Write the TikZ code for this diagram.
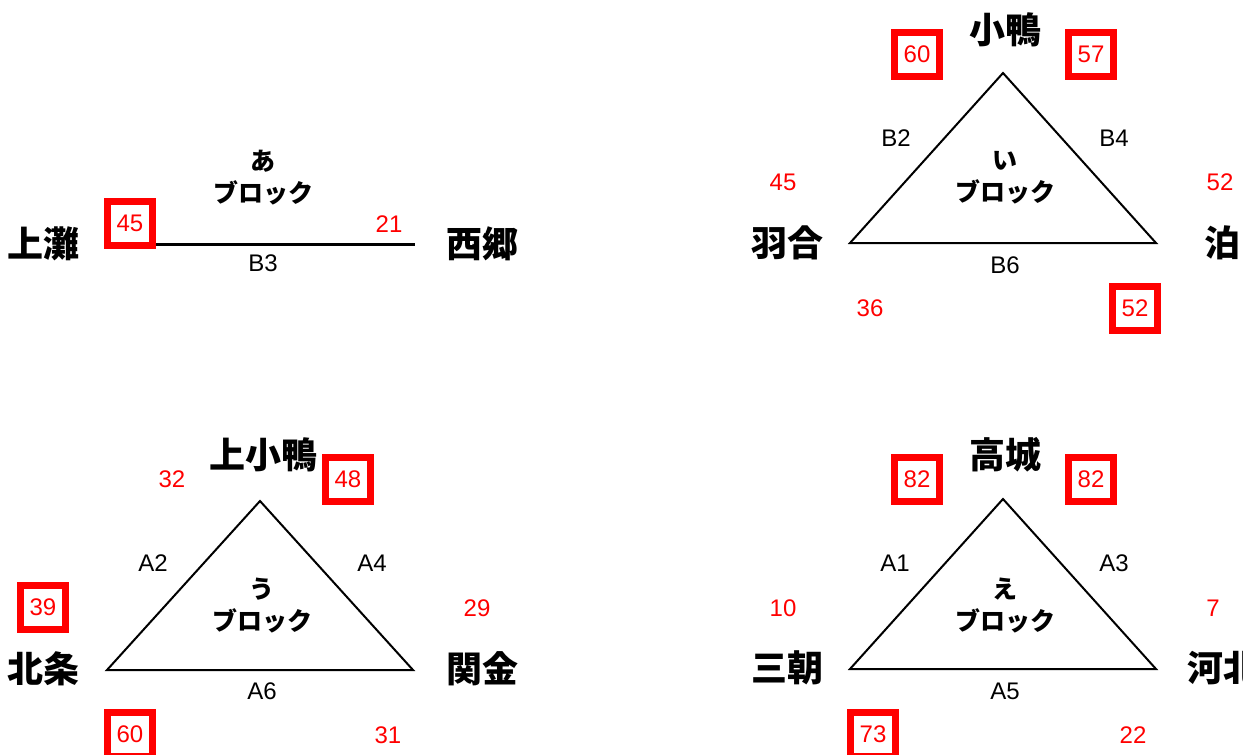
\documentclass[tikz,border=0pt]{standalone}
\usepackage{fontspec}
\setmainfont{Liberation Sans}
\newfontfamily\jp{Noto Sans CJK JP}
\begin{document}
\begin{tikzpicture}[x=1pt,y=-1pt,
  place/.style={font=\jp\bfseries\fontsize{36}{42}\selectfont, inner sep=0pt},
  num/.style={text=red, font=\fontsize{24}{28}\selectfont, inner sep=0pt},
  boxnum/.style={num, draw=red, line width=7pt, minimum width=45pt, minimum height=44pt},
  edgelab/.style={font=\fontsize{24}{28}\selectfont, inner sep=0pt},
  blk/.style={font=\jp\bfseries\fontsize{25}{32}\selectfont, align=center, inner sep=0pt},
  tri/.style={line width=2pt, line join=miter}]
\useasboundingbox (0,0) rectangle (1243,755);
\clip (0,0) rectangle (1243,755);

% ---- panel A (あ) ----
\node[place] (kaminada) at (44,244) {上灘};
\node[place] (saigo) at (482,244) {西郷};
\coordinate (aL) at (155,244);
\coordinate (aR) at (415,244);
\draw[line width=3pt] (aL) -- (aR);
\node[boxnum] (a45) at (130,223) {45};
\node[num] (a21) at (389,224) {21};
\node[blk] (blkA) at (263,178) {あ\\ブロック};
\node[edgelab] (B3) at (263,263) {B3};

% ---- panel I (い) ----
\coordinate (iT) at (1003,73);
\coordinate (iL) at (850,243);
\coordinate (iR) at (1156,243);
\draw[tri] (iT) -- (iL) -- (iR) -- cycle;
\node[place] (kogamo) at (1005,30) {小鴨};
\node[boxnum] (i60) at (917,54) {60};
\node[boxnum] (i57) at (1091,54) {57};
\node[edgelab] (B2) at (896,138) {B2};
\node[edgelab] (B4) at (1114,138) {B4};
\node[blk] (blkI) at (1005,178) {い\\ブロック};
\node[num] (i45) at (783,182) {45};
\node[num] (i52a) at (1220,182) {52};
\node[place] (hawai) at (787,243) {羽合};
\node[place] (tomari) at (1222,243) {泊};
\node[edgelab] (B6) at (1005,265) {B6};
\node[num] (i36) at (870,308) {36};
\node[boxnum] (i52b) at (1135,308) {52};

% ---- panel U (う) ----
\coordinate (uT) at (260,501);
\coordinate (uL) at (107,670);
\coordinate (uR) at (413,670);
\draw[tri] (uT) -- (uL) -- (uR) -- cycle;
\node[place] (kamikogamo) at (263,455) {上小鴨};
\node[num] (u32) at (172,479) {32};
\node[boxnum] (u48) at (348,479) {48};
\node[edgelab] (A2) at (153,563) {A2};
\node[edgelab] (A4) at (372,563) {A4};
\node[blk] (blkU) at (262,606) {う\\ブロック};
\node[boxnum] (u39) at (43,607) {39};
\node[num] (u29) at (477,608) {29};
\node[place] (hojo) at (43,669) {北条};
\node[place] (sekigane) at (482,669) {関金};
\node[edgelab] (A6) at (262,691) {A6};
\node[boxnum] (u60) at (130,734) {60};
\node[num] (u31) at (388,735) {31};

% ---- panel E (え) ----
\coordinate (eT) at (1003,499);
\coordinate (eL) at (850,669);
\coordinate (eR) at (1156,669);
\draw[tri] (eT) -- (eL) -- (eR) -- cycle;
\node[place] (takashiro) at (1005,455) {高城};
\node[boxnum] (e82a) at (917,479) {82};
\node[boxnum] (e82b) at (1091,479) {82};
\node[edgelab] (A1) at (895,563) {A1};
\node[edgelab] (A3) at (1114,563) {A3};
\node[blk] (blkE) at (1005,606) {え\\ブロック};
\node[num] (e10) at (783,608) {10};
\node[num] (e7) at (1213,608) {7};
\node[place] (misasa) at (787,668) {三朝};
\node[place] (hokuei) at (1223,668) {河北};
\node[edgelab] (A5) at (1005,691) {A5};
\node[boxnum] (e73) at (873,734) {73};
\node[num] (e22) at (1133,735) {22};
\end{tikzpicture}
\end{document}
